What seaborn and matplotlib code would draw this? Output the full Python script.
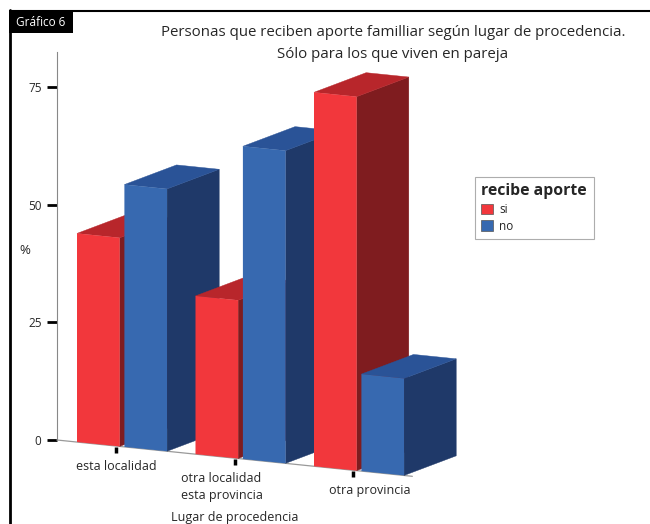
import numpy as np
import pandas as pd
import seaborn as sns
import matplotlib.pyplot as plt
import matplotlib.transforms as mtransforms
from matplotlib.patches import Polygon, Rectangle
from matplotlib.lines import Line2D

# datos
lugares = ["esta localidad", "otra localidad\nesta provincia", "otra provincia"]
aporte = ["si", "no"]
pct_si = [44.3, 33.6, 79.4]
pct_no = [55.7, 66.4, 20.6]

yticks = [0, 25, 50, 75]

sns.set_theme(style="white")
plt.rcParams["font.family"] = ["Open Sans", "DejaVu Sans"]

df = pd.DataFrame({
    "lugar": lugares * 2,
    "aporte": ["si"] * 3 + ["no"] * 3,
    "pct": pct_si + pct_no,
})

rojo = ["#F2373C", "#B8262B", "#7F1C1F"]   # frente, techo, lado
azul = ["#3769B0", "#2A5397", "#1F3969"]

fig = plt.figure(figsize=(6.5, 5.24), dpi=100)
ax = fig.add_axes([20 / 650, 24 / 524, 620 / 650, 460 / 524])

sns.barplot(data=df, x="lugar", y="pct", hue="aporte", hue_order=aporte,
            palette=[rojo[0], azul[0]], saturation=1, width=0.8, gap=0.1, ax=ax,
            edgecolor="none", linewidth=0)

ax.set_xlim(-0.861, 4.371)
ax.set_ylim(-12.74, 84.93)

# perspectiva: el piso baja hacia la derecha
x_eje = -0.55
s = -2.57
k = 1.0
persp = mtransforms.Affine2D(np.array([[1, 0, 0], [s, k, -s * x_eje], [0, 0, 1]]))
trans = persp + ax.transData

dx, dy = 0.44, 5.3
barras = []
for cont, cols in zip(ax.containers, [rojo, azul]):
    for p in cont:
        barras.append((p, cols))
barras.sort(key=lambda b: b[0].get_x())

for i, (p, cols) in enumerate(barras):
    x0, w, h = p.get_x(), p.get_width(), p.get_height()
    z = 3 + i * 3
    p.set_transform(trans)
    p.set_zorder(z + 2)
    lado = Polygon([(x0 + w, 0), (x0 + w + dx, dy), (x0 + w + dx, h + dy), (x0 + w, h)],
                   closed=True, facecolor=cols[2], edgecolor=cols[2], lw=0.3,
                   transform=trans, zorder=z)
    techo = Polygon([(x0, h), (x0 + w, h), (x0 + w + dx, h + dy), (x0 + dx, h + dy)],
                    closed=True, facecolor=cols[1], edgecolor=cols[1], lw=0.3,
                    transform=trans, zorder=z + 1)
    ax.add_patch(lado)
    ax.add_patch(techo)

# ejes
for sp in ["top", "right", "bottom"]:
    ax.spines[sp].set_visible(False)
ax.spines["left"].set_position(("data", x_eje))
ax.spines["left"].set_bounds(0, 82.4)
ax.spines["left"].set_color("#888888")
ax.spines["left"].set_linewidth(0.8)
ax.set_yticks(yticks)
ax.tick_params(axis="y", direction="out", length=7, width=2, color="black",
               labelsize=8.5, pad=4, left=True)
ax.set_xticks([])
ax.set_xlabel("")
ax.set_ylabel("")

# piso
ax.plot([x_eje, 2.45], [0, 0], color="#999999", lw=0.9, transform=trans, zorder=1)

xt = np.arange(3) - 0.05
off_lbl = [0, -13, 17]
for i, lab in enumerate(lugares):
    ax.plot([xt[i], xt[i]], [-0.1, -1.5], color="black", lw=2.5,
            solid_capstyle="butt", transform=trans, zorder=30)
    t = mtransforms.offset_copy(trans, fig, x=off_lbl[i], y=-7, units="dots")
    ax.text(xt[i], -1.5, lab, transform=t, ha="center", va="top",
            fontsize=9, linespacing=1.35)

fig.text(235 / 650, 1 - 517 / 524, "Lugar de procedencia", ha="center", va="center", fontsize=9)
fig.text(25 / 650, 1 - 250 / 524, "%", ha="center", va="center", fontsize=9.5)

# leyenda
sns.move_legend(ax, "upper left", bbox_to_anchor=(475 / 650, 1 - 177 / 524),
                bbox_transform=fig.transFigure, title="recibe aporte",
                frameon=True, fancybox=False, fontsize=8.5, borderaxespad=0,
                title_fontproperties={"weight": "bold", "size": 11.3},
                handlelength=1.0, handleheight=1.0, handletextpad=0.5,
                borderpad=0.55, labelspacing=0.3)
leg = ax.get_legend()
leg._legend_box.align = "left"
leg.get_frame().set_edgecolor("#999999")
leg.get_frame().set_linewidth(0.8)
for hnd in leg.legend_handles:
    hnd.set_edgecolor("#555555")
    hnd.set_linewidth(0.5)

# titulo
fig.text(393 / 650, 1 - 33 / 524, "Personas que reciben aporte familliar según lugar de procedencia.",
         ha="center", va="center", fontsize=10.8)
fig.text(393 / 650, 1 - 54 / 524, "Sólo para los que viven en pareja",
         ha="center", va="center", fontsize=10.8)

# marco
fig.add_artist(Line2D([10 / 650, 10 / 650], [0, 1 - 10 / 524], color="black", lw=2,
                      transform=fig.transFigure))
fig.add_artist(Line2D([10 / 650, 1], [1 - 10.5 / 524, 1 - 10.5 / 524], color="black", lw=1.5,
                      transform=fig.transFigure))
fig.add_artist(Rectangle((9 / 650, 1 - 33 / 524), 64 / 650, 23 / 524, facecolor="black",
                         edgecolor="none", transform=fig.transFigure))
fig.text(41 / 650, 1 - 22 / 524, "Gráfico 6", color="white", ha="center", va="center", fontsize=8.5)

fig.savefig("out.png", dpi=100)
